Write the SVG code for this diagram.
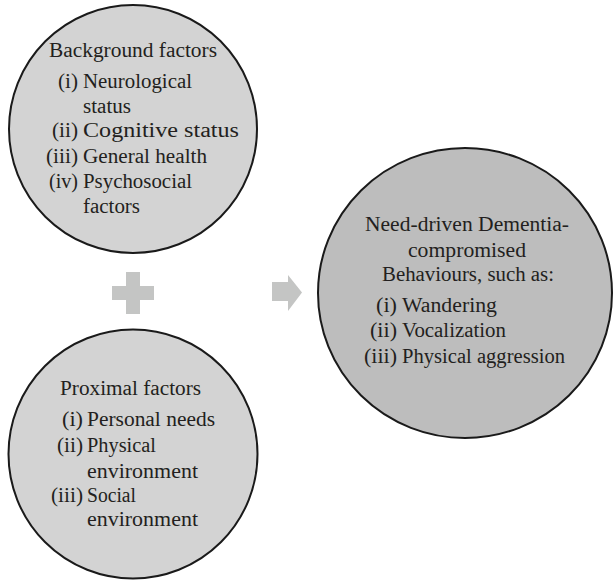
<svg xmlns="http://www.w3.org/2000/svg" width="613" height="580" viewBox="0 0 613 580">
<style>
.c1{fill:#d3d3d3;stroke:#1a1a1a;stroke-width:2}
.c3{fill:#bdbdbd;stroke:#1a1a1a;stroke-width:2}
.sym{fill:#c4c5c4}
text{font-family:"Liberation Serif","Times New Roman",serif;font-size:20px;fill:#231f20}
</style>
<rect width="613" height="580" fill="#fff"/>
<g id="background-factors">
<circle class="c1" cx="133" cy="129" r="124"/>
<text x="49" y="57" textLength="168" lengthAdjust="spacingAndGlyphs">Background factors</text>
<text x="58" y="88" textLength="20" lengthAdjust="spacingAndGlyphs">(i)</text>
<text x="83" y="88" textLength="109" lengthAdjust="spacingAndGlyphs">Neurological</text>
<text x="83" y="113" textLength="48" lengthAdjust="spacingAndGlyphs">status</text>
<text x="52" y="137" textLength="26" lengthAdjust="spacingAndGlyphs">(ii)</text>
<text x="83" y="137" textLength="156" lengthAdjust="spacingAndGlyphs">Cognitive status</text>
<text x="46" y="163" textLength="32" lengthAdjust="spacingAndGlyphs">(iii)</text>
<text x="83" y="163" textLength="124" lengthAdjust="spacingAndGlyphs">General health</text>
<text x="49" y="188" textLength="29" lengthAdjust="spacingAndGlyphs">(iv)</text>
<text x="83" y="188" textLength="109" lengthAdjust="spacingAndGlyphs">Psychosocial</text>
<text x="83" y="213" textLength="57" lengthAdjust="spacingAndGlyphs">factors</text>
</g>
<g id="proximal-factors">
<circle class="c1" cx="133" cy="454" r="124.5"/>
<text x="60" y="395" textLength="141" lengthAdjust="spacingAndGlyphs">Proximal factors</text>
<text x="62" y="426" textLength="21" lengthAdjust="spacingAndGlyphs">(i)</text>
<text x="87" y="426" textLength="128" lengthAdjust="spacingAndGlyphs">Personal needs</text>
<text x="57" y="452" textLength="26" lengthAdjust="spacingAndGlyphs">(ii)</text>
<text x="87" y="452" textLength="69" lengthAdjust="spacingAndGlyphs">Physical</text>
<text x="87" y="478" textLength="111" lengthAdjust="spacingAndGlyphs">environment</text>
<text x="51" y="502" textLength="32" lengthAdjust="spacingAndGlyphs">(iii)</text>
<text x="87" y="502" textLength="49" lengthAdjust="spacingAndGlyphs">Social</text>
<text x="87" y="526" textLength="111" lengthAdjust="spacingAndGlyphs">environment</text>
</g>
<g id="behaviours">
<ellipse class="c3" cx="465" cy="293" rx="147" ry="145"/>
<text x="365" y="231" textLength="204" lengthAdjust="spacingAndGlyphs">Need-driven Dementia-</text>
<text x="408" y="257" textLength="118" lengthAdjust="spacingAndGlyphs">compromised</text>
<text x="382" y="281" textLength="172" lengthAdjust="spacingAndGlyphs">Behaviours, such as:</text>
<text x="376" y="312" textLength="21" lengthAdjust="spacingAndGlyphs">(i)</text>
<text x="402" y="312" textLength="95" lengthAdjust="spacingAndGlyphs">Wandering</text>
<text x="370" y="337" textLength="27" lengthAdjust="spacingAndGlyphs">(ii)</text>
<text x="402" y="337" textLength="104" lengthAdjust="spacingAndGlyphs">Vocalization</text>
<text x="364" y="363" textLength="33" lengthAdjust="spacingAndGlyphs">(iii)</text>
<text x="402" y="363" textLength="163" lengthAdjust="spacingAndGlyphs">Physical aggression</text>
</g>
<g id="plus">
<path class="sym" d="M126 272H140V286H154V300H140V314H126V300H112V286H126Z"/>
</g>
<g id="connectors">
<path class="sym" d="M272 282H288V275L302 292.5L288 311V301H272Z"/>
</g>
</svg>
